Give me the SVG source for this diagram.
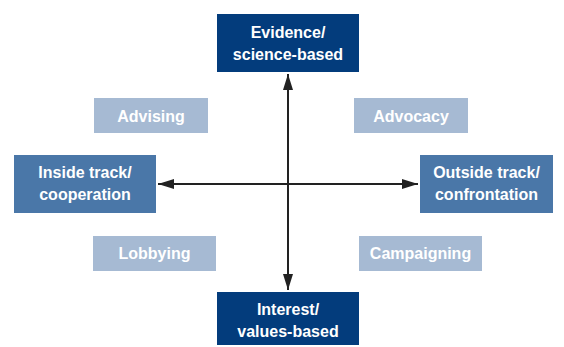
<svg xmlns="http://www.w3.org/2000/svg" width="564" height="347" viewBox="0 0 564 347">
<style>
.t{font-family:"Liberation Sans",Arial,sans-serif;font-weight:bold;font-size:16px;fill:#fff;text-anchor:middle}
.dk{fill:#033c7c}
.md{fill:#4a77a8}
.lt{fill:#a6bad3}
.ax{stroke:#222;stroke-width:2;fill:none}
</style>
<defs>
<marker id="ah" viewBox="0 0 16 10" refX="16" refY="5" markerWidth="16" markerHeight="10" markerUnits="userSpaceOnUse" orient="auto-start-reverse">
<path d="M0,0 L16,5 L0,10 z" fill="#222"/>
</marker>
</defs>
<rect width="564" height="347" fill="#fff"/>
<g id="connectors">
<line class="ax" x1="288" y1="74" x2="288" y2="290" marker-start="url(#ah)" marker-end="url(#ah)"/>
<line class="ax" x1="158" y1="184" x2="418" y2="184" marker-start="url(#ah)" marker-end="url(#ah)"/>
</g>
<g id="evidence">
<rect class="dk" x="217" y="14" width="142" height="58"/>
<text class="t" x="288" y="37.5">Evidence/</text>
<text class="t" x="288" y="59.5">science-based</text>
</g>
<g id="interest">
<rect class="dk" x="217" y="292" width="142" height="53"/>
<text class="t" x="288" y="314.5">Interest/</text>
<text class="t" x="288" y="336.5">values-based</text>
</g>
<g id="inside">
<rect class="md" x="14" y="155" width="142" height="58"/>
<text class="t" x="85" y="177.5">Inside track/</text>
<text class="t" x="85" y="199.5">cooperation</text>
</g>
<g id="outside">
<rect class="md" x="420" y="155" width="133" height="58"/>
<text class="t" x="486.5" y="177.5">Outside track/</text>
<text class="t" x="486.5" y="199.5">confrontation</text>
</g>
<g id="advising">
<rect class="lt" x="94" y="98" width="114" height="35"/>
<text class="t" x="151" y="121.5">Advising</text>
</g>
<g id="advocacy">
<rect class="lt" x="354" y="98" width="114" height="35"/>
<text class="t" x="411" y="121.5">Advocacy</text>
</g>
<g id="lobbying">
<rect class="lt" x="93" y="236" width="123" height="35"/>
<text class="t" x="154.5" y="259">Lobbying</text>
</g>
<g id="campaigning">
<rect class="lt" x="359" y="236" width="123" height="35"/>
<text class="t" x="420.5" y="259">Campaigning</text>
</g>
</svg>
